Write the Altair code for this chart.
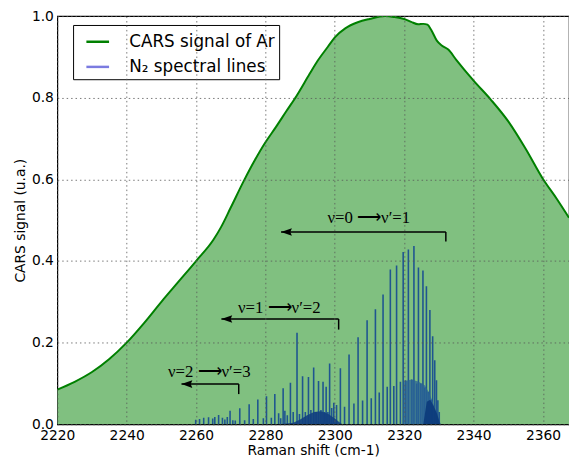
import altair as alt
import pandas as pd

# ---------------- data ----------------
curve_x = [2220, 2225, 2230, 2235, 2240, 2245, 2250, 2255, 2260, 2265, 2267.2, 2270,
           2273.8, 2277, 2280, 2283, 2286.1, 2289, 2292.7, 2295, 2298, 2300, 2303,
           2306.6, 2310, 2314.5, 2317, 2320, 2322, 2324, 2325.5, 2326.7, 2327.8,
           2329.4, 2330.8, 2332.7, 2335, 2340, 2345, 2350, 2355, 2360,
           2364, 2367.5]
curve_y = [0.085, 0.104, 0.128, 0.160, 0.200, 0.248, 0.300, 0.350, 0.400, 0.452, 0.483, 0.531,
           0.597, 0.648, 0.691, 0.728, 0.768, 0.805, 0.858, 0.890, 0.925, 0.948, 0.970,
           0.985, 0.993, 1.000, 0.998, 0.993, 0.986, 0.980, 0.981, 0.979, 0.966,
           0.940, 0.928, 0.918, 0.893, 0.842, 0.795, 0.742, 0.675, 0.601,
           0.552, 0.506]

line_x = [2259.9, 2261.0, 2262.2, 2263.6, 2264.8, 2265.4, 2266.5, 2267.6, 2268.3, 2269.0,
          2269.8, 2270.6, 2271.3, 2272.6, 2274.0, 2275.3, 2276.5, 2277.8, 2279.4, 2280.3,
          2281.7, 2282.7, 2283.8, 2284.4, 2285.1, 2285.6, 2286.3, 2287.2, 2288.0, 2289.1,
          2289.8, 2290.7, 2291.5, 2292.4, 2293.1, 2293.9, 2294.6, 2295.3, 2296.0, 2296.6,
          2297.1, 2297.5, 2298.0, 2298.5, 2299.1, 2299.7, 2300.5, 2301.6, 2302.8, 2304.1,
          2305.5, 2306.7, 2308.0, 2309.3, 2310.5, 2311.7, 2312.8, 2313.9, 2315.1, 2316.0,
          2317.0, 2317.8, 2318.9, 2319.7, 2320.4, 2321.2, 2322.2, 2322.8, 2323.6, 2324.1,
          2324.8, 2325.4, 2325.9, 2326.4, 2326.9, 2327.4, 2327.8, 2328.2, 2328.8, 2329.3,
          2329.7, 2330.1]
line_h = [0.011, 0.013, 0.016, 0.017, 0.014, 0.018, 0.023, 0.016, 0.012, 0.018,
          0.033, 0.010, 0.009, 0.039, 0.010, 0.049, 0.013, 0.061, 0.015, 0.069,
          0.016, 0.074, 0.027, 0.015, 0.088, 0.033, 0.022, 0.102, 0.030, 0.224,
          0.025, 0.118, 0.030, 0.116, 0.035, 0.139, 0.030, 0.106, 0.035, 0.104,
          0.030, 0.092, 0.030, 0.149, 0.040, 0.053, 0.047, 0.137, 0.043, 0.171,
          0.051, 0.213, 0.058, 0.255, 0.064, 0.282, 0.078, 0.318, 0.092, 0.379,
          0.094, 0.389, 0.104, 0.422, 0.108, 0.428, 0.110, 0.437, 0.100, 0.384,
          0.100, 0.377, 0.090, 0.338, 0.080, 0.280, 0.060, 0.216, 0.157, 0.108,
          0.059, 0.030]

# dense bases under the v=1 and v=0 bands
env1_x = [2284, 2288, 2290, 2292, 2294, 2296, 2298, 2300, 2301.5, 2302.2]
env1_y = [0.0, 0.004, 0.012, 0.022, 0.030, 0.032, 0.026, 0.014, 0.004, 0.0]
env2_x = [2319.6, 2320.0, 2322, 2324, 2326, 2327, 2328, 2329, 2330, 2330.6]
env2_y = [0.0, 0.105, 0.110, 0.105, 0.095, 0.080, 0.060, 0.035, 0.010, 0.0]
env3_x = [2325.5, 2326.5, 2327.5, 2328.5, 2329.5, 2330.4]
env3_y = [0.0, 0.055, 0.060, 0.045, 0.025, 0.0]

series = ["CARS signal of Ar", "N\u2082 spectral lines"]

arrow_label = ["\u03bd=0 \u27f6\u03bd\u2032=1", "\u03bd=1 \u27f6\u03bd\u2032=2", "\u03bd=2 \u27f6\u03bd\u2032=3"]
arrow_tip = [2284.5, 2267.3, 2255.8]
arrow_end = [2332.0, 2301.1, 2272.3]
arrow_y = [0.471, 0.258, 0.0985]
arrow_tick = [0.448, 0.232, 0.074]
label_x = [2309.8, 2284.0, 2263.8]
label_y = [0.492, 0.272, 0.116]

# ---------------- tables ----------------
curve = pd.DataFrame({"x": curve_x, "y": curve_y, "series": series[0]})
lines = pd.DataFrame({"x": line_x, "h": line_h, "base": 0.0})
env1 = pd.DataFrame({"x": env1_x, "y": env1_y})
env2 = pd.DataFrame({"x": env2_x, "y": env2_y})
env3 = pd.DataFrame({"x": env3_x, "y": env3_y})
arrows = pd.DataFrame({"label": arrow_label, "tip": arrow_tip, "end": arrow_end,
                       "y": arrow_y, "tick": arrow_tick, "lx": label_x, "ly": label_y})

xs = alt.Scale(domain=[2220, 2367.5], nice=False, zero=False)
ys = alt.Scale(domain=[0, 1], nice=False)

xaxis = alt.Axis(values=[2220, 2240, 2260, 2280, 2300, 2320, 2340, 2360], format="d",
                 title="Raman shift (cm-1)", labelFontSize=14, titleFontSize=14,
                 titleFontWeight="normal", labelFont="DejaVu Sans", titleFont="DejaVu Sans",
                 labelColor="black", titleColor="black", ticks=False, labelPadding=4,
                 titlePadding=2, domain=False, grid=True, gridDash=[1.5, 3], gridColor="#555555",
                 gridWidth=0.8, labelFlush=False, zindex=1)
yaxis = alt.Axis(values=[0, 0.2, 0.4, 0.6, 0.8, 1.0], format=".1f",
                 title="CARS signal (u.a.)", labelFontSize=14, titleFontSize=14,
                 titleFontWeight="normal", labelFont="DejaVu Sans", titleFont="DejaVu Sans",
                 labelColor="black", titleColor="black", ticks=False, labelPadding=4,
                 titlePadding=4, domain=False, grid=True, gridDash=[1.5, 3], gridColor="#555555",
                 gridWidth=0.8, labelFlush=False, zindex=1)

fill = alt.Chart(curve).mark_area(color="#80c080", interpolate="monotone", clip=True).encode(
    x=alt.X("x:Q", scale=xs, axis=xaxis), y=alt.Y("y:Q", scale=ys, axis=yaxis))

spikes = alt.Chart(lines).mark_rule(color="#1f5590", strokeWidth=1.6, clip=True).encode(
    x=alt.X("x:Q", scale=xs), y=alt.Y("base:Q", scale=ys), y2="h:Q")

e1 = alt.Chart(env1).mark_area(color="#123f80", opacity=0.9, clip=True).encode(
    x=alt.X("x:Q", scale=xs), y=alt.Y("y:Q", scale=ys))
e2 = alt.Chart(env2).mark_area(color="#2a6396", opacity=0.75, clip=True).encode(
    x=alt.X("x:Q", scale=xs), y=alt.Y("y:Q", scale=ys))
e3 = alt.Chart(env3).mark_area(color="#0b3a7a", opacity=0.9, clip=True).encode(
    x=alt.X("x:Q", scale=xs), y=alt.Y("y:Q", scale=ys))

line = alt.Chart(curve).mark_line(strokeWidth=2, interpolate="monotone", clip=True).encode(
    x=alt.X("x:Q", scale=xs), y=alt.Y("y:Q", scale=ys),
    color=alt.Color("series:N",
                    scale=alt.Scale(domain=series, range=["#008000", "#7b7be0"]),
                    legend=alt.Legend(title=None, orient="none", legendX=16, legendY=9,
                                      fillColor="white", strokeColor="black", padding=4,
                                      symbolOffset=8,
                                      labelFontSize=17, labelFont="DejaVu Sans",
                                      labelColor="black", symbolType="stroke",
                                      symbolSize=529, symbolStrokeWidth=2.5, rowPadding=4.5,
                                      labelOffset=19, cornerRadius=0, labelLimit=300)))

ab = alt.Chart(arrows)
shaft = ab.mark_rule(color="black", strokeWidth=1.5).encode(
    x=alt.X("tip:Q", scale=xs), x2="end:Q", y=alt.Y("y:Q", scale=ys))
tick = ab.mark_rule(color="black", strokeWidth=1.5).encode(
    x=alt.X("end:Q", scale=xs), y=alt.Y("y:Q", scale=ys), y2="tick:Q")
head = ab.mark_point(shape="M0,0L2,-0.7L1.7,0L2,0.7Z", filled=True, color="black",
                     size=121, opacity=1).encode(
    x=alt.X("tip:Q", scale=xs), y=alt.Y("y:Q", scale=ys))
txt = ab.mark_text(font="Liberation Serif", fontSize=17, color="black", align="center",
                   baseline="alphabetic").encode(
    x=alt.X("lx:Q", scale=xs), y=alt.Y("ly:Q", scale=ys), text="label:N")

chart = alt.layer(fill, spikes, e1, e2, e3, line, shaft, tick, head, txt).properties(
    width=569, height=453,
    autosize=alt.AutoSizeParams(type="fit", contains="padding"),
    padding={"left": 5, "top": -2, "right": 0, "bottom": 0},
).configure_view(stroke="black", strokeWidth=1.2)

chart.save("out.html", embed_options={"renderer": "svg", "actions": False})
